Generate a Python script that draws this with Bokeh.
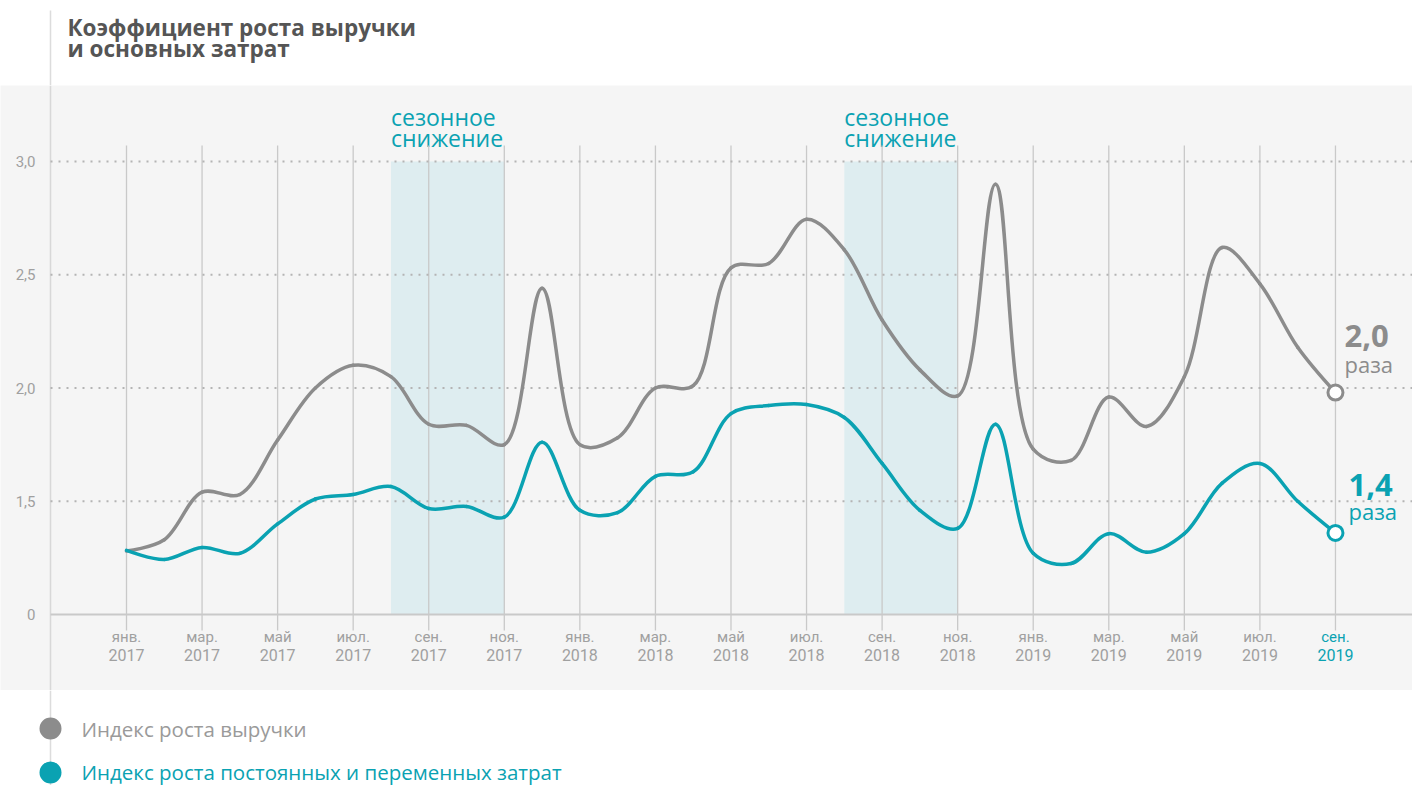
import math

from bokeh.core.properties import value
from bokeh.embed import file_html
from bokeh.layouts import column
from bokeh.models import ColumnDataSource, Range1d
from bokeh.plotting import figure
from bokeh.resources import INLINE

# ---- data -----------------------------------------------------------------
month_names = ["янв.", "фев.", "мар.", "апр.", "май", "июн.",
               "июл.", "авг.", "сен.", "окт.", "ноя.", "дек."]
first_year = 2017
month_idx = list(range(33))          # янв. 2017 ... сен. 2019

revenue_index = [1.28, 1.33, 1.54, 1.53, 1.77, 2.00, 2.10, 2.05, 1.84, 1.835,
                 1.75, 2.44, 1.75, 1.78, 2.00, 2.01, 2.53, 2.55, 2.745, 2.61,
                 2.30, 2.08, 1.965, 2.90, 1.73, 1.68, 1.96, 1.83, 2.05, 2.62,
                 2.46, 2.18, 1.98]
cost_index = [1.283, 1.243, 1.296, 1.27, 1.40, 1.51, 1.53, 1.565, 1.468, 1.477,
              1.43, 1.76, 1.46, 1.45, 1.61, 1.63, 1.887, 1.923, 1.927, 1.87,
              1.667, 1.46, 1.38, 1.84, 1.27, 1.225, 1.357, 1.275, 1.357, 1.58,
              1.667, 1.50, 1.36]

season_start = [7, 19]               # авг. 2017, авг. 2018
season_end = [10, 22]                # ноя. 2017, ноя. 2018
season_text = ["сезонное", "снижение"]

y_ticks = [1.0, 1.5, 2.0, 2.5, 3.0]
y_tick_labels = ["0", "1,5", "2,0", "2,5", "3,0"]

series_names = ["Индекс роста выручки",
                "Индекс роста постоянных и переменных затрат"]

title_lines = ["Коэффициент роста выручки", "и основных затрат"]

# ---- style ----------------------------------------------------------------
GRAY = "#8c8c8c"
TEAL = "#0aa2b2"
PANEL = "#f5f5f5"
BAND = "#deedf0"
RULE = "#c9c9c9"
AXIS_TEXT = "#a0a0a0"
FONT = "Open Sans"
W = 1412
LEFT = 50                            # x of the vertical guide line

# main panel geometry (frame spans the whole width)
MAIN_H = 605
X0, X1 = -3.335, 34.039
Y0, Y1 = 0.6645, 3.3355
KX = W / (X1 - X0)
KY = MAIN_H / (Y1 - Y0)
XL = X0 + LEFT / KX                  # guide line in month units


def catmull_rom(xs, ys, alpha=0.5):
    """Centripetal Catmull-Rom spline as cubic Bezier segments (screen-scaled)."""
    pts = [(x * KX, y * KY) for x, y in zip(xs, ys)]
    n = len(pts)
    out = {k: [] for k in ("x0", "y0", "x1", "y1", "cx0", "cy0", "cx1", "cy1")}

    def d(a, b):
        return math.hypot(a[0] - b[0], a[1] - b[1])

    for i in range(n - 1):
        p0 = pts[i - 1] if i > 0 else pts[i]
        p1, p2 = pts[i], pts[i + 1]
        p3 = pts[i + 2] if i + 2 < n else pts[i + 1]
        l01_2a, l12_2a, l23_2a = (d(p0, p1) ** (2 * alpha),
                                  d(p1, p2) ** (2 * alpha),
                                  d(p2, p3) ** (2 * alpha))
        l01_a, l12_a, l23_a = (math.sqrt(l01_2a), math.sqrt(l12_2a),
                               math.sqrt(l23_2a))
        c1 = p1
        if l01_a > 1e-12:
            a = 2 * l01_2a + 3 * l01_a * l12_a + l12_2a
            nn = 3 * l01_a * (l01_a + l12_a)
            c1 = ((p1[0] * a - p0[0] * l12_2a + p2[0] * l01_2a) / nn,
                  (p1[1] * a - p0[1] * l12_2a + p2[1] * l01_2a) / nn)
        c2 = p2
        if l23_a > 1e-12:
            b = 2 * l23_2a + 3 * l23_a * l12_a + l12_2a
            m = 3 * l23_a * (l23_a + l12_a)
            c2 = ((p2[0] * b + p1[0] * l23_2a - p3[0] * l12_2a) / m,
                  (p2[1] * b + p1[1] * l23_2a - p3[1] * l12_2a) / m)
        out["x0"].append(p1[0] / KX); out["y0"].append(p1[1] / KY)
        out["x1"].append(p2[0] / KX); out["y1"].append(p2[1] / KY)
        out["cx0"].append(c1[0] / KX); out["cy0"].append(c1[1] / KY)
        out["cx1"].append(c2[0] / KX); out["cy1"].append(c2[1] / KY)
    return ColumnDataSource(out)


def bare(height, x_range, y_range, bg):
    f = figure(width=W, height=height, output_backend="svg", toolbar_location=None,
               x_range=x_range, y_range=y_range,
               x_axis_location=None, y_axis_location=None,
               min_border=0, min_border_left=0, min_border_right=0,
               min_border_top=0, min_border_bottom=0,
               background_fill_color=bg, border_fill_color=bg,
               outline_line_color=None)
    f.xgrid.visible = False
    f.ygrid.visible = False
    return f


# ---- title strip ----------------------------------------------------------
head = bare(85, Range1d(0, W), Range1d(85, 0), "white")
head.segment(x0=[LEFT], y0=[10], x1=[LEFT], y1=[85], line_color="#dcdcdc",
             line_width=1.5)
head.text(x=[67, 67], y=[27, 48], text=title_lines, text_font=value(FONT),
          text_font_style="bold", text_font_size="22.5px", text_color="#555555",
          text_baseline="alphabetic")

# ---- main chart -------------------------------------------------------------
p = bare(MAIN_H, Range1d(X0, X1), Range1d(Y0, Y1), PANEL)

# seasonal slowdown bands
p.quad(left=season_start, right=season_end, bottom=[y_ticks[0]] * 2,
       top=[y_ticks[-1]] * 2, fill_color=BAND, line_color=None)
for s in season_start:
    p.text(x=[s, s], y=[y_ticks[-1]] * 2, text=season_text, y_offset=[-44, -23],
           text_font=value(FONT), text_font_size="23px", text_color=TEAL,
           text_baseline="alphabetic", text_align="left")

# vertical guide line
p.segment(x0=[XL], y0=[Y0], x1=[XL], y1=[Y1], line_color="#d8d8d8",
          line_width=1.5)

# vertical month rules every second month
label_months = month_idx[::2]
p.segment(x0=label_months, y0=[y_ticks[0] - 16 / KY] * len(label_months),
          x1=label_months, y1=[y_ticks[-1] + 16 / KY] * len(label_months),
          line_color=RULE, line_width=1.3)

# horizontal dotted levels and solid base line
p.segment(x0=[XL] * 4, y0=y_ticks[1:], x1=[X1] * 4, y1=y_ticks[1:],
          line_color="#b4b4b4", line_width=2, line_dash="2 6")
p.segment(x0=[XL], y0=[y_ticks[0]], x1=[X1], y1=[y_ticks[0]],
          line_color=RULE, line_width=2)

# level labels
p.text(x=[XL] * len(y_ticks), y=y_ticks, text=y_tick_labels, x_offset=-15,
       text_font=value("Roboto"), text_font_size="15px", text_color=AXIS_TEXT,
       text_align="right", text_baseline="middle")

# month / year labels
names = [month_names[m % 12] for m in label_months]
yrs = [str(first_year + m // 12) for m in label_months]
colors = [AXIS_TEXT] * (len(label_months) - 1) + [TEAL]
p.text(x=label_months, y=[y_ticks[0]] * len(label_months), text=names,
       y_offset=22, text_font=value("Roboto"), text_font_size="15px",
       text_color=colors, text_align="center", text_baseline="middle")
p.text(x=label_months, y=[y_ticks[0]] * len(label_months), text=yrs,
       y_offset=40, text_font=value("Roboto"), text_font_size="16px",
       text_color=colors, text_align="center", text_baseline="middle")

# series curves
for ys, col in ((revenue_index, GRAY), (cost_index, TEAL)):
    src = catmull_rom(month_idx, ys)
    p.bezier(x0="x0", y0="y0", x1="x1", y1="y1", cx0="cx0", cy0="cy0",
             cx1="cx1", cy1="cy1", source=src, line_color=col, line_width=3.5,
             line_cap="round")

# end markers with value labels
for ys, col, dx, off_v, off_u in ((revenue_index, GRAY, 9, -57, -29),
                                   (cost_index, TEAL, 13, -48, -22)):
    xe, ye = month_idx[-1], ys[-1]
    p.scatter(x=[xe], y=[ye], size=15, fill_color="white", line_color=col,
              line_width=3)
    p.text(x=[xe], y=[ye], text=[f"{ye:.1f}".replace(".", ",")], x_offset=dx,
           y_offset=off_v, text_font=value(FONT), text_font_style="bold",
           text_font_size="31px", text_color=col, text_baseline="alphabetic")
    p.text(x=[xe], y=[ye], text=["раза"], x_offset=dx, y_offset=off_u,
           text_font=value(FONT), text_font_size="22px", text_color=col,
           text_baseline="alphabetic")

# ---- legend strip ---------------------------------------------------------
foot = bare(95, Range1d(0, W), Range1d(785, 690), "white")
foot.segment(x0=[LEFT], y0=[690], x1=[LEFT], y1=[785], line_color="#dcdcdc",
             line_width=1.5)
foot.scatter(x=[LEFT, LEFT], y=[728, 772], size=22, fill_color=[GRAY, TEAL],
             line_color=None)
foot.text(x=[81, 81], y=[728, 771], text=series_names, text_font=value(FONT),
          text_font_size="20.5px", text_color=["#9a9a9a", TEAL],
          text_baseline="middle")

layout = column(head, p, foot, spacing=0)
open("out.html", "w").write(file_html(layout, INLINE))
